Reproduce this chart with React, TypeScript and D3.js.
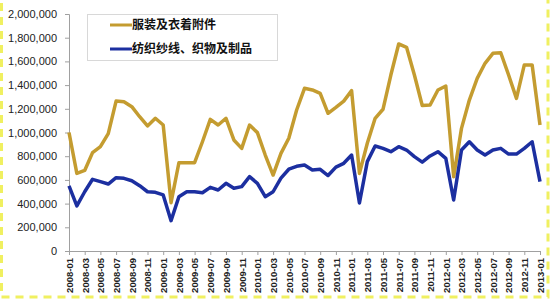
import React, { useEffect, useRef } from 'react'
import * as d3 from 'd3'

// monthly export values, 2008-01 .. 2013-01
const startYear = 2008
const monthCount = 61

const apparel = [
  1000000, 655000, 680000, 830000, 880000, 990000, 1265000, 1260000, 1218000, 1133000, 1055000, 1120000,
  1063000, 408000, 745000, 745000, 745000, 922000, 1111000, 1063000, 1120000, 937000, 866000, 1063000,
  999000, 810000, 641000, 824000, 951000, 1190000, 1373000, 1359000, 1330000, 1162000, 1212000, 1265000,
  1353000, 655000, 909000, 1120000, 1196000, 1485000, 1747000, 1719000, 1485000, 1228000, 1232000, 1359000,
  1392000, 627000, 1035000, 1274000, 1457000, 1584000, 1668000, 1673000, 1485000, 1288000, 1570000, 1570000,
  1063000,
]

const textiles = [
  549000, 380000, 500000, 605000, 585000, 565000, 619000, 613000, 593000, 551000, 500000, 495000,
  473000, 256000, 458000, 500000, 500000, 492000, 537000, 515000, 571000, 529000, 543000, 627000,
  571000, 458000, 500000, 615000, 690000, 715000, 726000, 684000, 689000, 637000, 708000, 740000,
  810000, 405000, 754000, 886000, 866000, 838000, 880000, 852000, 796000, 750000, 802000, 838000,
  782000, 430000, 852000, 922000, 852000, 810000, 852000, 866000, 818000, 818000, 866000, 922000,
  585000,
]

const seriesNames = ['服装及衣着附件', '纺织纱线、织物及制品']
const seriesColors = ['#c49c30', '#1c2fa0']
const yTicks = [0, 200000, 400000, 600000, 800000, 1000000, 1200000, 1400000, 1600000, 1800000, 2000000]

const months: string[] = d3.range(monthCount).map(i => {
  const y = startYear + Math.floor(i / 12)
  const m = (i % 12) + 1
  return `${y}-${m < 10 ? '0' + m : m}`
})
const tickLabels = months.filter((_, i) => i % 2 === 0)

const width = 550
const height = 300
const margin = { top: 14, right: 10, bottom: 49, left: 69 }

export default function App() {
  const ref = useRef<SVGSVGElement>(null)

  useEffect(() => {
    const svg = d3.select(ref.current)
    svg.selectAll('*').remove()

    const x = d3.scalePoint<string>()
      .domain(months)
      .range([margin.left, 540])

    const y = d3.scaleLinear()
      .domain([0, 2000000])
      .range([height - margin.bottom, margin.top])

    // dashed yellow frame
    svg.append('rect')
      .attr('x', 1.5)
      .attr('y', -4)
      .attr('width', 546.5)
      .attr('height', 301)
      .attr('fill', 'none')
      .attr('stroke', '#f0f060')
      .attr('stroke-width', 3)
      .attr('stroke-dasharray', '8 6')

    // y axis
    const yAxis = svg.append('g')
      .attr('transform', `translate(${margin.left},0)`)
      .call(d3.axisLeft(y).tickValues(yTicks).tickSize(4).tickPadding(8)
        .tickFormat(d => d3.format(',')(d as number)))
    yAxis.select('.domain').attr('stroke', '#a0a0a0')
    yAxis.selectAll('.tick line').attr('stroke', '#a0a0a0')
    yAxis.selectAll('.tick text')
      .style('font-family', '"Liberation Sans", Arial, sans-serif')
      .style('font-size', '11px')
      .attr('fill', '#222')

    // x axis
    const xAxis = svg.append('g')
      .attr('transform', `translate(0,${y(0)})`)
      .call(d3.axisBottom(x).tickValues(tickLabels).tickSize(4).tickSizeOuter(0))
    xAxis.select('.domain').attr('stroke', '#a0a0a0')
    xAxis.selectAll('.tick line').attr('stroke', '#a0a0a0')
    xAxis.selectAll('.tick text')
      .style('font-family', '"Liberation Sans", Arial, sans-serif')
      .style('font-size', '9.5px')
      .style('font-weight', 'bold')
      .attr('fill', '#222')
      .attr('transform', 'rotate(-90)')
      .attr('text-anchor', 'end')
      .attr('x', -7)
      .attr('y', 0)
      .attr('dy', '0.35em')

    const line = d3.line<number>()
      .x((_, i) => x(months[i]) as number)
      .y(d => y(d))

    ;[apparel, textiles].forEach((values, k) => {
      svg.append('path')
        .datum(values)
        .attr('d', line)
        .attr('fill', 'none')
        .attr('stroke', seriesColors[k])
        .attr('stroke-width', 3.5)
        .attr('stroke-linejoin', 'round')
    })

    // legend
    const legend = svg.append('g')
    legend.append('rect')
      .attr('x', 87.5)
      .attr('y', 14.5)
      .attr('width', 190)
      .attr('height', 46)
      .attr('fill', 'white')
      .attr('stroke', '#d8d8d8')

    seriesNames.forEach((name, k) => {
      const ly = 25 + k * 24
      legend.append('line')
        .attr('x1', 110)
        .attr('x2', 132)
        .attr('y1', ly)
        .attr('y2', ly)
        .attr('stroke', seriesColors[k])
        .attr('stroke-width', 3)
      legend.append('text')
        .attr('x', 132)
        .attr('y', ly)
        .attr('dy', '0.36em')
        .text(name)
        .style('font-family', '"Noto Sans CJK SC", sans-serif')
        .style('font-size', '12px')
        .style('font-weight', 'bold')
        .attr('fill', '#111')
    })
  }, [])

  return (
    <svg
      ref={ref}
      width={width}
      height={height}
      style={{ position: 'absolute', left: 0, top: 0, background: 'white' }}
    />
  )
}
